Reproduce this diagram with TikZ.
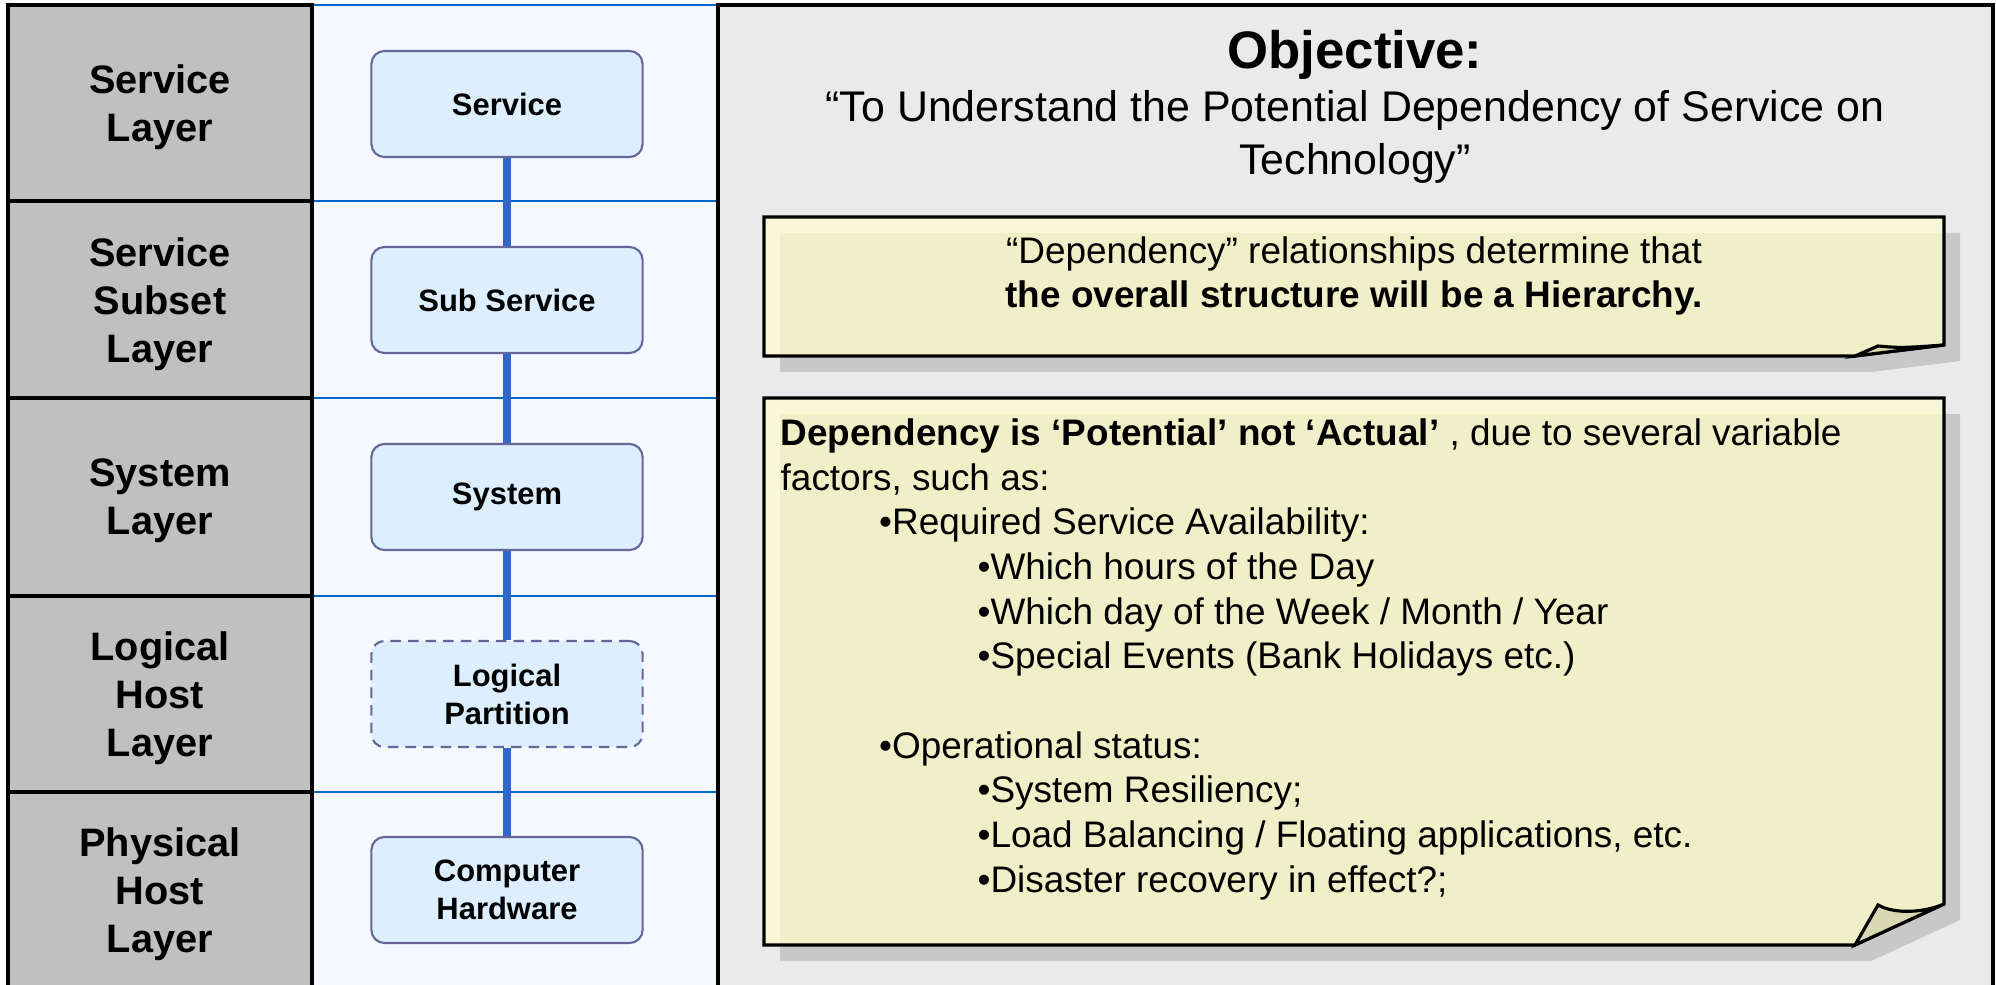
\documentclass[tikz,border=0pt]{standalone}
\usepackage{fontspec}
\setmainfont{Liberation Sans}
\definecolor{laygray}{HTML}{C0C0C0}
\definecolor{colblue}{HTML}{F5F9FF}
\definecolor{panelgray}{HTML}{EAEAEA}
\definecolor{boxblue}{HTML}{DDEEFF}
\definecolor{boxline}{HTML}{666699}
\definecolor{linkblue}{HTML}{3366CC}
\definecolor{sepblue}{HTML}{0066CC}
\definecolor{noteyellow}{HTML}{F0F0C8}
\definecolor{notelight}{HTML}{F8F8D8}
\definecolor{noteflap}{HTML}{D8D8B0}
\definecolor{noteshadow}{HTML}{C8C8C8}
\begin{document}
\begin{tikzpicture}[x=0.01cm,y=-0.01cm,
  layer/.style={font=\bfseries\fontsize{11.3}{13.7}\selectfont,align=center},
  tech/.style={draw=boxline,line width=0.6pt,fill=boxblue,rounded corners=3.7pt,
    minimum width=2.71cm,minimum height=1.06cm,inner sep=0pt,align=center,
    font=\bfseries\fontsize{8.8}{10.8}\selectfont},
  link/.style={linkblue,line width=2.2pt},
  notetext/.style={font=\fontsize{10.5}{12.7}\selectfont}]
\useasboundingbox (0,0) rectangle (1996,985);
%\draw[red] (0,0) rectangle (1996,985);
% layer columns
\fill[laygray] (8,5) rectangle (312,995);
\fill[colblue] (312,5) rectangle (718,995);
\foreach \y in {201,398,596,792} {
  \draw[line width=0.9pt] (8,\y) -- (312,\y);
  \draw[sepblue,line width=0.7pt] (312,\y) -- (718,\y);
}
\draw[sepblue,line width=0.7pt] (312,5) -- (718,5);
\draw[line width=0.9pt] (8,995) -- (8,5) -- (312,5) -- (312,995);
\node[layer] (lsvc) at (160,107) {Service\\Layer};
\node[layer] (lsub) at (160,304) {Service\\Subset\\Layer};
\node[layer] (lsys) at (160,501) {System\\Layer};
\node[layer] (llog) at (160,698) {Logical\\Host\\Layer};
\node[layer] (lphy) at (160,894) {Physical\\Host\\Layer};
% hierarchy
\node[tech] (svc) at (507,104) {Service};
\node[tech] (sub) at (507,300) {Sub Service};
\node[tech] (sys) at (507,497) {System};
\node[tech,dash pattern=on 3pt off 2pt] (lpar) at (507,694) {Logical\\Partition};
\node[tech] (hw) at (507,890) {Computer\\Hardware};
\draw[link] (svc) -- (sub) -- (sys) -- (lpar) -- (hw);
% objective panel
\draw[fill=panelgray,line width=0.9pt] (718,995) -- (718,5) -- (1993,5) -- (1993,995);
\node[font=\bfseries\fontsize{15}{18}\selectfont] (obj) at (1355,55) {Objective:};
\node[font=\fontsize{12.2}{15.1}\selectfont,align=center] (aim) at (1355,137)
  {“To Understand the Potential Dependency of Service on\\Technology”};
% note 1
\fill[noteshadow] (780,233) -- (1960,233) -- (1960,361) -- (1871,372) -- (780,372) -- cycle;
\begin{scope}
\clip (764,217) -- (1944,217) -- (1944,345) -- (1855,356) -- (764,356) -- cycle;
\fill[notelight] (764,217) rectangle (1944,356);
\fill[noteyellow] (780,233) rectangle (1960,372);
\end{scope}
\draw[line width=0.9pt] (764,217) -- (1944,217) -- (1944,345) -- (1855,356) -- (764,356) -- cycle;
\draw[fill=noteflap,line width=0.9pt] (1855,356) -- (1878,346) .. controls (1901,348) .. (1944,345) -- cycle;
\node[notetext,align=center] (hier) at (1354,276)
  {“Dependency” relationships determine that\\\textbf{the overall structure will be a Hierarchy.}};
% note 2
\fill[noteshadow] (780,414) -- (1960,414) -- (1960,920) -- (1871,961) -- (780,961) -- cycle;
\begin{scope}
\clip (764,398) -- (1944,398) -- (1944,904) -- (1855,945) -- (764,945) -- cycle;
\fill[notelight] (764,398) rectangle (1944,945);
\fill[noteyellow] (780,414) rectangle (1960,961);
\end{scope}
\draw[line width=0.9pt] (764,398) -- (1944,398) -- (1944,904) -- (1855,945) -- (764,945) -- cycle;
\draw[fill=noteflap,line width=0.9pt] (1855,945) -- (1878,905) .. controls (1896,915) and (1926,912) .. (1944,904) -- cycle;
\node[notetext,align=left,anchor=north west,inner sep=0pt] (vars) at (780,418)
  {\textbf{Dependency is ‘Potential’ not ‘Actual’} , due to several variable\\
   factors, such as:\\
   \hspace*{28pt}•Required Service Availability:\\
   \hspace*{56pt}•Which hours of the Day\\
   \hspace*{56pt}•Which day of the Week / Month / Year\\
   \hspace*{56pt}•Special Events (Bank Holidays etc.)\\[12.7pt]
   \hspace*{28pt}•Operational status:\\
   \hspace*{56pt}•System Resiliency;\\
   \hspace*{56pt}•Load Balancing / Floating applications, etc.\\
   \hspace*{56pt}•Disaster recovery in effect?;};
\end{tikzpicture}
\end{document}
